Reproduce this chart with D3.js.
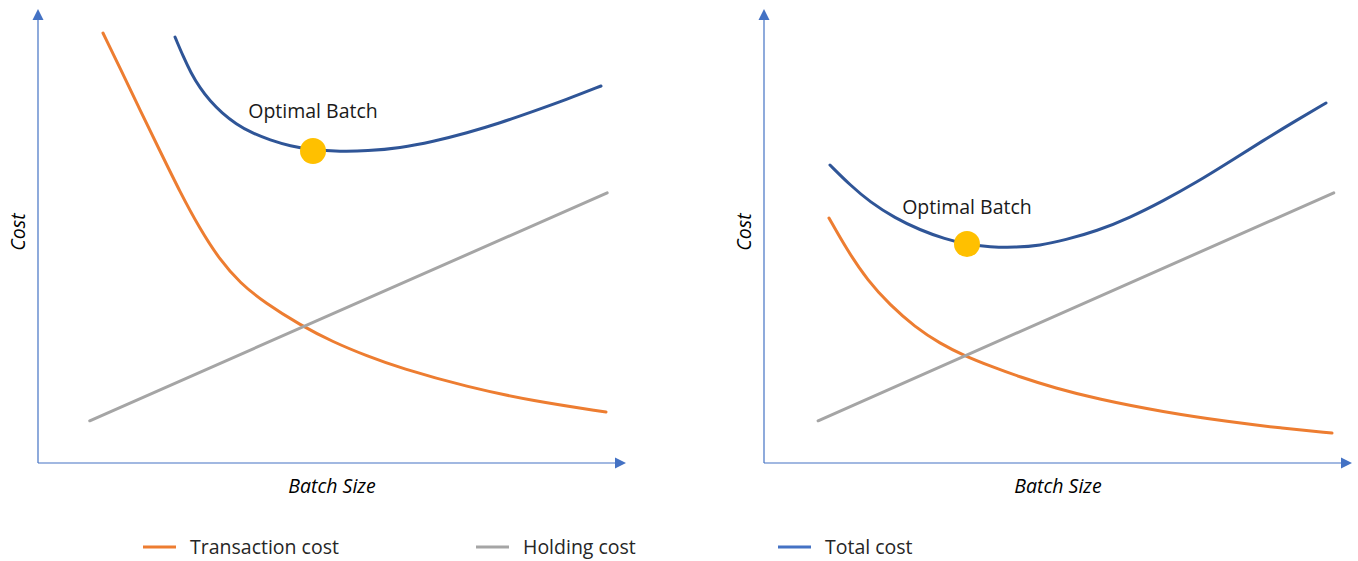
<!DOCTYPE html>
<html>
<head>
<meta charset="utf-8">
<script src="https://cdn.jsdelivr.net/npm/d3@7"></script>
<style>
  html, body { margin: 0; padding: 0; background: #fff; }
  svg { display: block; font-family: "Open Sans", "Noto Sans", sans-serif; }
</style>
</head>
<body>
<svg id="chart" width="1358" height="561"></svg>
<script>
// Cost curves, [batch size, cost] on a 0–100 scale for both axes.
const leftTransaction = [[11.05, 94.71], [13.95, 87.0], [17.35, 77.75], [20.75, 68.72],
  [24.15, 59.69], [27.55, 51.54], [30.95, 44.71], [34.35, 39.65], [38.61, 35.24],
  [44.56, 30.4], [50.17, 26.65], [55.95, 23.57], [61.56, 20.93], [72.96, 16.74],
  [84.18, 13.66], [96.6, 11.23]];
const leftHolding = [[8.8, 9.3], [96.8, 59.5]];
const leftTotal = [[23.3, 93.83], [24.66, 89.65], [26.02, 85.9], [27.55, 82.6], [29.25, 79.74],
  [31.29, 77.09], [33.67, 74.67], [36.39, 72.69], [39.46, 71.15], [42.86, 69.82],
  [46.77, 68.94], [51.36, 68.61], [55.95, 68.72], [61.56, 69.38], [67.18, 70.8],
  [72.96, 72.7], [78.57, 74.89], [84.18, 77.42], [89.97, 80.1], [95.75, 83.04]];
const leftOptimal = [46.77, 68.72];

const rightTransaction = [[11.05, 53.96], [14.12, 46.92], [17.69, 40.09], [21.43, 34.8],
  [25.68, 29.96], [29.93, 26.32], [34.18, 23.57], [38.44, 21.37], [43.54, 18.94],
  [49.49, 16.52], [56.63, 14.1], [67.86, 11.23], [79.25, 9.03], [87.76, 7.71], [96.6, 6.61]];
const rightHolding = [[9.2, 9.3], [96.9, 59.5]];
const rightTotal = [[11.22, 65.64], [14.63, 61.23], [18.03, 57.49], [22.28, 53.96],
  [26.53, 51.32], [30.78, 49.34], [34.52, 48.13], [38.44, 47.58], [42.69, 47.47],
  [46.94, 47.91], [51.19, 49.12], [56.63, 51.1], [62.24, 54.07], [67.86, 57.71],
  [73.64, 61.89], [79.25, 66.41], [84.86, 71.0], [90.31, 75.3], [95.58, 79.3]];
const rightOptimal = [34.52, 48.24];

const seriesNames = ["Transaction cost", "Holding cost", "Total cost"];
const seriesColors = ["#ED7D31", "#A5A5A5", "#2F5597"];
const legendColors = ["#ED7D31", "#A5A5A5", "#4472C4"];
const axisColor = "#4472C4";
const dotColor = "#FFC000";

const panels = [
  { left: 38, series: [leftTransaction, leftHolding, leftTotal], optimal: leftOptimal, labelGap: 33 },
  { left: 764, series: [rightTransaction, rightHolding, rightTotal], optimal: rightOptimal, labelGap: 30 }
];

const plotTop = 9, plotW = 588, plotH = 454;
const x = d3.scaleLinear().domain([0, 100]).range([0, plotW]);
const y = d3.scaleLinear().domain([0, 100]).range([plotH, 0]);
const line = d3.line().x(d => x(d[0])).y(d => y(d[1])).curve(d3.curveBasis);

const svg = d3.select("#chart");

panels.forEach(p => {
  const g = svg.append("g").attr("transform", `translate(${p.left},${plotTop})`);

  // axes with arrowheads
  g.append("line").attr("x1", 0).attr("x2", 0).attr("y1", y(0)).attr("y2", 10)
    .attr("stroke", axisColor).attr("stroke-width", 1.2);
  g.append("path").attr("d", "M0,0 L-5.5,11 L5.5,11 Z").attr("fill", axisColor);
  g.append("line").attr("x1", 0).attr("x2", plotW - 10).attr("y1", y(0)).attr("y2", y(0))
    .attr("stroke", axisColor).attr("stroke-width", 1.2);
  g.append("path").attr("d", `M${plotW},${y(0)} L${plotW - 11},${y(0) - 5.5} L${plotW - 11},${y(0) + 5.5} Z`)
    .attr("fill", axisColor);

  // axis titles
  g.append("text").attr("transform", `translate(${-20},${223}) rotate(-90)`)
    .attr("text-anchor", "middle").attr("dy", "0.35em")
    .style("font-style", "italic").style("font-size", "19.5px").attr("fill", "#000")
    .text("Cost");
  g.append("text").attr("x", 294).attr("y", 484)
    .attr("text-anchor", "middle")
    .style("font-style", "italic").style("font-size", "19.5px").attr("fill", "#000")
    .text("Batch Size");

  // cost curves
  p.series.forEach((s, i) => {
    g.append("path").attr("d", line(s)).attr("fill", "none")
      .attr("stroke", seriesColors[i]).attr("stroke-width", 3)
      .attr("stroke-linecap", "round");
  });

  // optimal batch marker
  g.append("circle").attr("cx", x(p.optimal[0])).attr("cy", y(p.optimal[1])).attr("r", 13)
    .attr("fill", dotColor);
  g.append("text").attr("x", x(p.optimal[0])).attr("y", y(p.optimal[1]) - p.labelGap)
    .attr("text-anchor", "middle").style("font-size", "19.5px").attr("fill", "#1a1a1a")
    .text("Optimal Batch");
});

// legend
const legendX = [143, 476, 778];
const lg = svg.append("g").attr("transform", "translate(0,547)");
seriesNames.forEach((name, i) => {
  lg.append("line").attr("x1", legendX[i]).attr("x2", legendX[i] + 33).attr("y1", 0).attr("y2", 0)
    .attr("stroke", legendColors[i]).attr("stroke-width", 3);
  lg.append("text").attr("x", legendX[i] + 47).attr("y", 0).attr("dy", "0.35em")
    .style("font-size", "19.5px").attr("fill", "#262626").text(name);
});
</script>
</body>
</html>
